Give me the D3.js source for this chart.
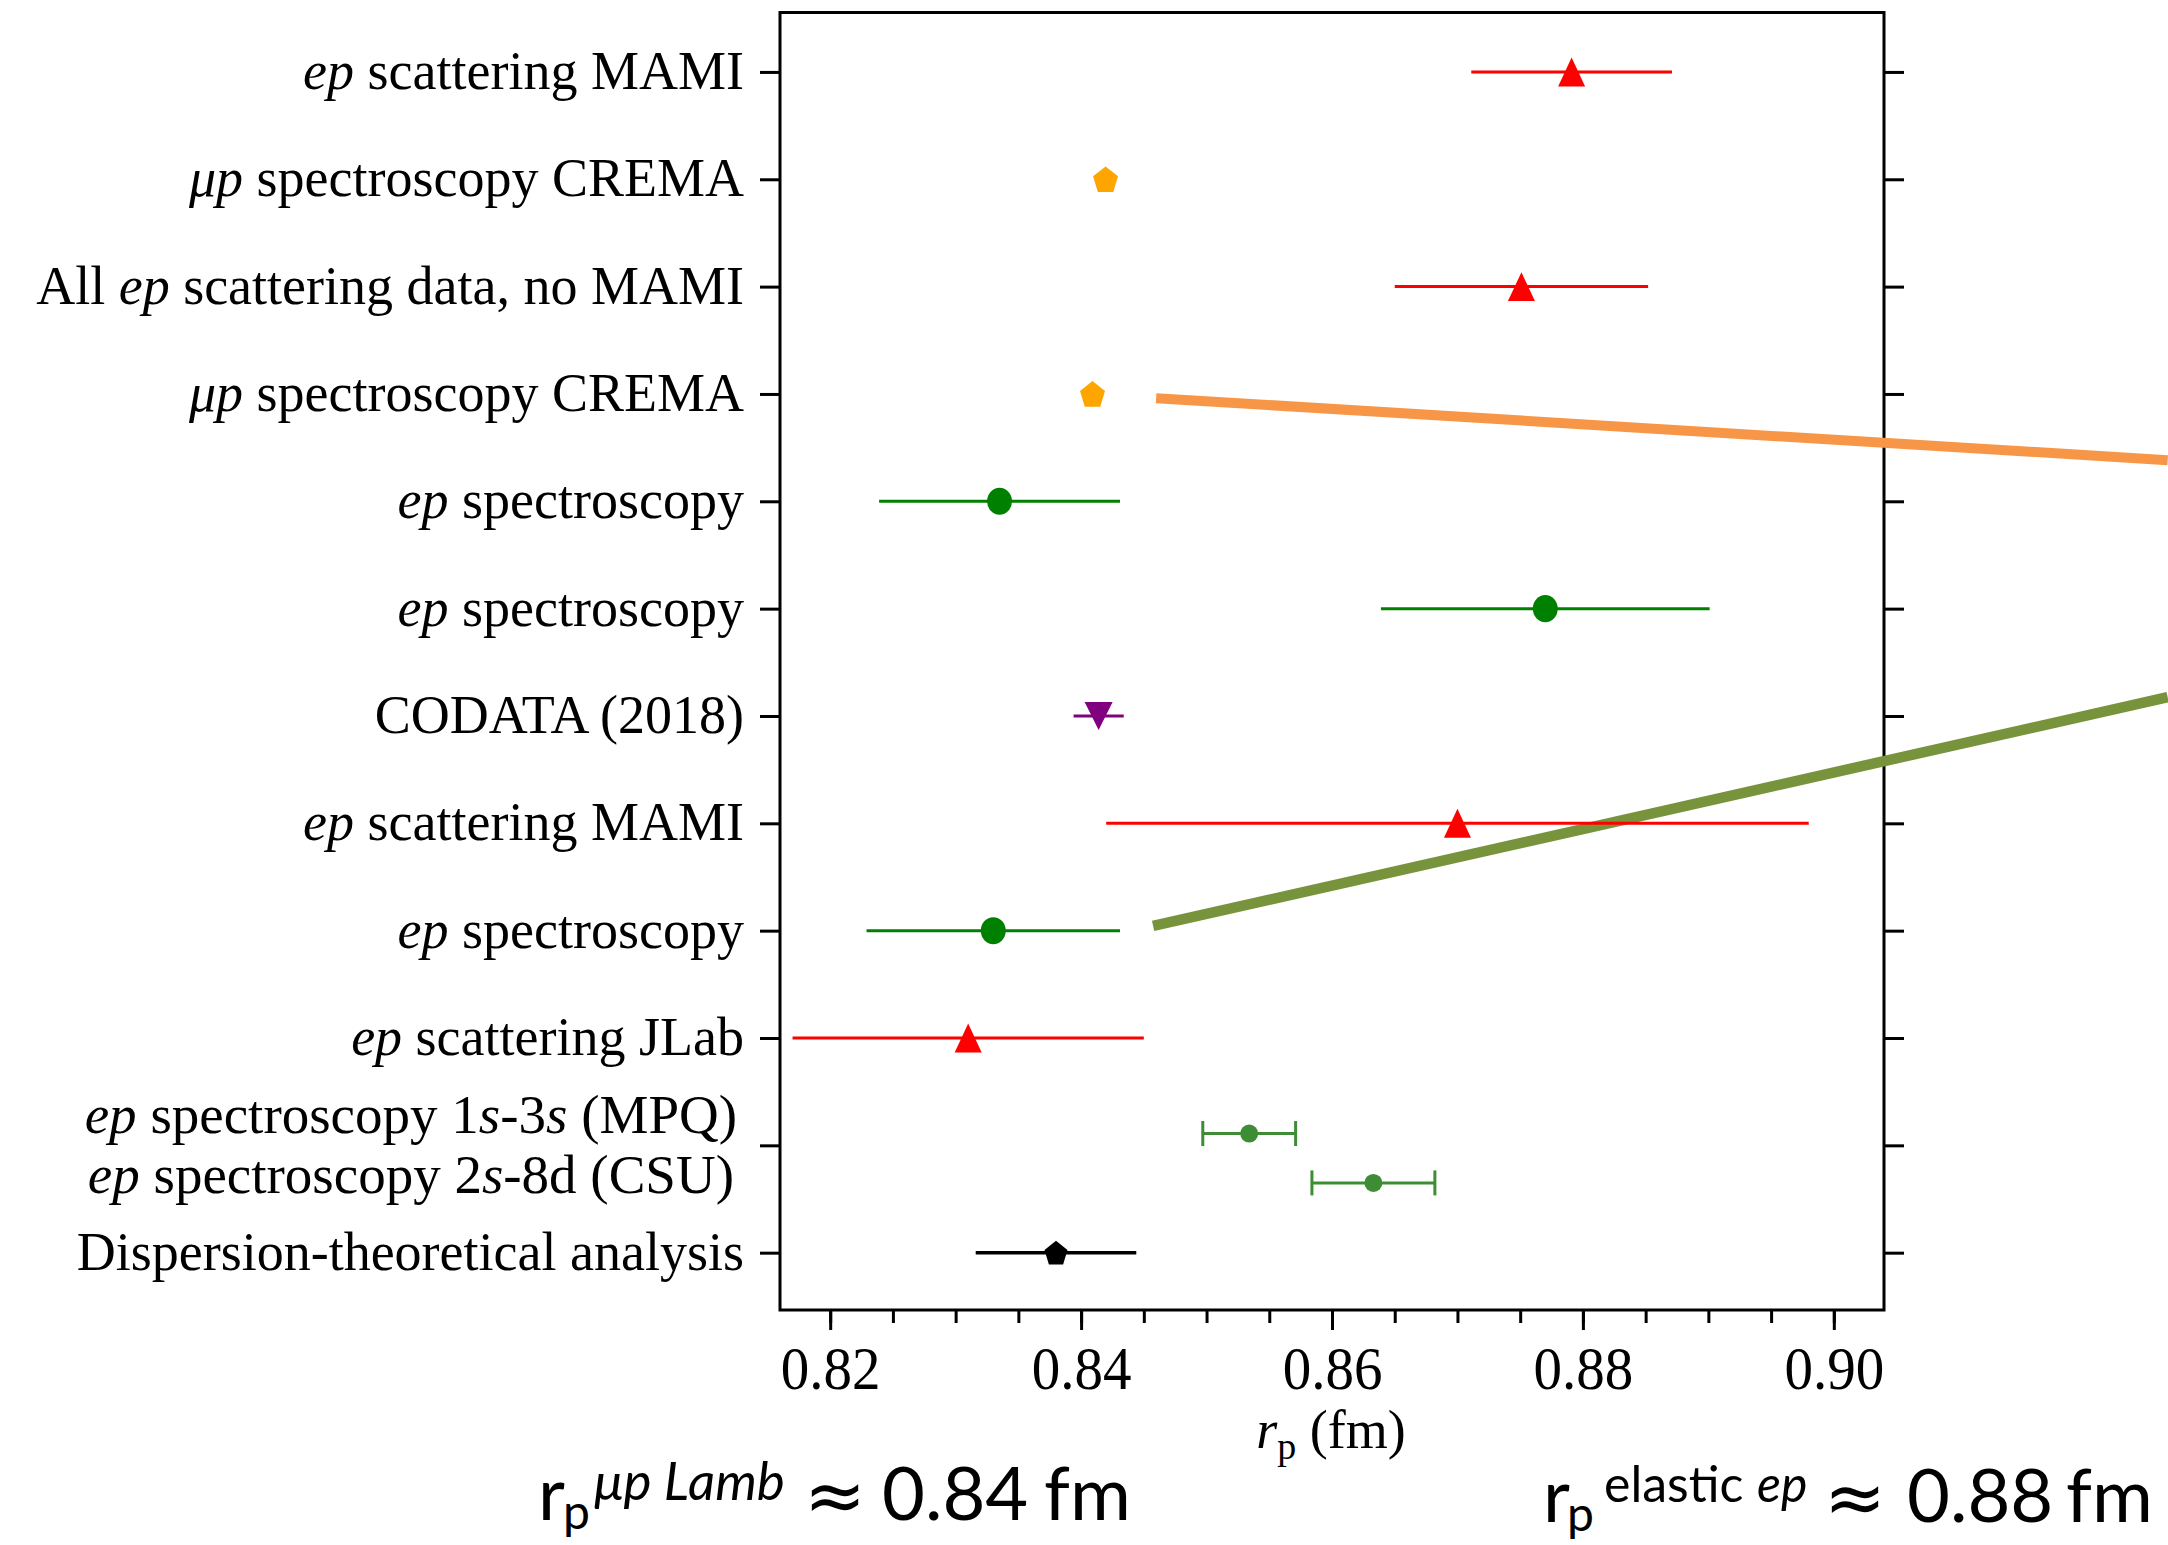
<!DOCTYPE html>
<html>
<head>
<meta charset="utf-8">
<script src="https://cdn.jsdelivr.net/npm/d3@7"></script>
<style>
  body { margin: 0; background: #fff; }
  svg { display: block; }
  text { white-space: pre; }
</style>
</head>
<body>
<script>
// ---------------- data ----------------
const labels = [
  "*ep* scattering MAMI",
  "*μp* spectroscopy CREMA",
  "All *ep* scattering data, no MAMI",
  "*μp* spectroscopy CREMA",
  "*ep* spectroscopy",
  "*ep* spectroscopy",
  "CODATA (2018)",
  "*ep* scattering MAMI",
  "*ep* spectroscopy",
  "*ep* scattering JLab",
  "*ep* spectroscopy 1*s*-3*s* (MPQ)",
  "*ep* spectroscopy 2*s*-8d (CSU)",
  "Dispersion-theoretical analysis"
];
const rowPos   = [0, 1, 2, 3, 4, 5, 6, 7, 8, 9, 9.89, 10.35, 11];
const labelPos = [0, 1, 2, 3, 4, 5, 6, 7, 8, 9, 9.727, 10.285, 11];
const values   = [0.8791, 0.84195, 0.8751, 0.84091, 0.8335, 0.8770, 0.8414, 0.8700, 0.8330, 0.8310, 0.8534, 0.8633, 0.8380];
const errors   = [0.0080, 0.0004, 0.0101, 0.0004, 0.0096, 0.0131, 0.0020, 0.0280, 0.0101, 0.0140, 0.0037, 0.0049, 0.0064];
const markers  = ["triUp","pent","triUp","pent","circle","circle","triDown","triUp","circle","triUp","small","small","pentSmall"];
const colors   = ["#ff0000","#ffa500","#ff0000","#ffa500","#008000","#008000","#800080","#ff0000","#008000","#ff0000","#3e8d34","#3e8d34","#000000"];
const capped   = [false,false,false,false,false,false,false,false,false,false,true,true,false];

const xMajorTicks = [0.82, 0.84, 0.86, 0.88, 0.90];
const xMinorTicks = [0.82, 0.825, 0.83, 0.835, 0.84, 0.845, 0.85, 0.855, 0.86, 0.865, 0.87, 0.875, 0.88, 0.885, 0.89, 0.895, 0.90];
const yTicks = [0, 1, 2, 3, 4, 5, 6, 7, 8, 9, 10, 11];

// annotation call-out lines (data units: r_p, row position)
const calloutOrange = [[0.84598, 3.039], [0.92661, 3.617]];
const calloutGreen  = [[0.84574, 7.956], [0.92661, 5.825]];

// ---------------- layout ----------------
const W = 2168, H = 1545;
const svg = d3.select("body").append("svg").attr("width", W).attr("height", H);
svg.append("rect").attr("width", W).attr("height", H).attr("fill", "#fff");

const x = d3.scaleLinear().domain([0.816, 0.904]).range([780, 1884]);
const y = d3.scaleLinear().domain([-0.5537, 11.534]).range([12.5, 1310]);

const serif = "'Liberation Serif','Times New Roman',serif";

// frame
svg.append("rect")
  .attr("x", x.range()[0]).attr("y", y.range()[0])
  .attr("width", x.range()[1] - x.range()[0]).attr("height", y.range()[1] - y.range()[0])
  .attr("fill", "none").attr("stroke", "#000").attr("stroke-width", 3);

// axes
const styleAxis = g => {
  g.select(".domain").remove();
  g.selectAll(".tick line").attr("stroke", "#000").attr("stroke-width", 3);
};
svg.append("g").attr("transform", `translate(0,${y.range()[1]})`)
  .call(d3.axisBottom(x).tickValues(xMinorTicks).tickSize(13).tickFormat(""))
  .call(styleAxis);
const xMaj = svg.append("g").attr("transform", `translate(0,${y.range()[1]})`)
  .call(d3.axisBottom(x).tickValues(xMajorTicks).tickSize(20).tickPadding(13).tickFormat(d3.format(".2f")))
  .call(styleAxis);
xMaj.selectAll(".tick text").attr("font-family", serif).attr("font-size", 57).attr("fill", "#000")
  .attr("transform", "scale(1,1.08)");

svg.append("g").attr("transform", `translate(${x.range()[0]},0)`)
  .call(d3.axisLeft(y).tickValues(yTicks).tickSize(20).tickFormat(""))
  .call(styleAxis);
svg.append("g").attr("transform", `translate(${x.range()[1]},0)`)
  .call(d3.axisRight(y).tickValues(yTicks).tickSize(20).tickFormat(""))
  .call(styleAxis);

// rich text helper
function addRich(sel, str) {
  str.split(/(\*[^*]+\*)/).filter(s => s.length).forEach(s => {
    const it = s.startsWith("*");
    sel.append("tspan").attr("font-style", it ? "italic" : null).text(it ? s.slice(1, -1) : s);
  });
}

// category labels
const labelEnd = [744, 744, 744, 744, 744, 744, 744, 744, 744, 744, 737, 734, 744];
labels.forEach((lab, i) => {
  const t = svg.append("text")
    .attr("x", labelEnd[i]).attr("y", y(labelPos[i]) + 17)
    .attr("text-anchor", "end")
    .attr("font-family", serif)
    .attr("font-size", (i === 10 || i === 11) ? 55 : 54)
    .attr("fill", "#000");
  addRich(t, lab);
});

// axis title
const xt = svg.append("text").attr("x", 1331).attr("y", 1448)
  .attr("text-anchor", "middle").attr("font-family", serif).attr("font-size", 54).attr("fill", "#000");
xt.append("tspan").attr("font-style", "italic").text("r");
xt.append("tspan").attr("font-size", 38).attr("dy", 11).text("p");
xt.append("tspan").attr("dy", -11).text(" (fm)");

// callout lines
const line = d3.line().x(d => x(d[0])).y(d => y(d[1]));
svg.append("path").attr("d", line(calloutOrange)).attr("stroke", "#f79646").attr("stroke-width", 10).attr("fill", "none");
svg.append("path").attr("d", line(calloutGreen)).attr("stroke", "#77933c").attr("stroke-width", 10.5).attr("fill", "none");

// custom symbol types (size = width^2)
const triUp = { draw(ctx, size) { const w = Math.sqrt(size), h = w * 1.07;
  ctx.moveTo(0, -h / 2); ctx.lineTo(w / 2, h / 2); ctx.lineTo(-w / 2, h / 2); ctx.closePath(); } };
const triDown = { draw(ctx, size) { const w = Math.sqrt(size), h = w;
  ctx.moveTo(0, h / 2); ctx.lineTo(w / 2, -h / 2); ctx.lineTo(-w / 2, -h / 2); ctx.closePath(); } };
const pent = { draw(ctx, size) { const w = Math.sqrt(size), R = w / 1.902, sy = 1.08, off = 0.095 * R;
  for (let k = 0; k < 5; k++) { const a = -Math.PI / 2 + k * 2 * Math.PI / 5;
    const px = R * Math.cos(a), py = (R * Math.sin(a) + off) * sy;
    if (k === 0) ctx.moveTo(px, py); else ctx.lineTo(px, py); } ctx.closePath(); } };

const symTypes = { triUp: triUp, triDown: triDown, pent: pent, pentSmall: pent, circle: d3.symbolCircle, small: d3.symbolCircle };
const symSize = { triUp: 27 * 27, triDown: 28 * 28, pent: 25 * 25, pentSmall: 23 * 23, circle: Math.PI * 13 * 13, small: Math.PI * 9 * 9 };

// error bars + markers
const idx = d3.range(values.length);
const g = svg.append("g");
idx.forEach(i => {
  const cy = y(rowPos[i]);
  g.append("line").attr("x1", x(values[i] - errors[i])).attr("x2", x(values[i] + errors[i]))
    .attr("y1", cy).attr("y2", cy).attr("stroke", colors[i])
    .attr("stroke-width", colors[i] === "#000000" ? 3.5 : 3);
  if (capped[i]) {
    [values[i] - errors[i], values[i] + errors[i]].forEach(v => {
      g.append("line").attr("x1", x(v)).attr("x2", x(v)).attr("y1", cy - 12.5).attr("y2", cy + 12.5)
        .attr("stroke", colors[i]).attr("stroke-width", 3);
    });
  }
  g.append("path")
    .attr("transform", `translate(${x(values[i])},${cy})` + (markers[i] === "circle" ? " scale(0.96,1.04)" : ""))
    .attr("d", d3.symbol().type(symTypes[markers[i]]).size(symSize[markers[i]])())
    .attr("fill", colors[i]);
});

// bottom annotations
const sans = "Lato,'Open Sans',sans-serif";
function annot(parts) {
  const t = svg.append("text").attr("font-family", sans).attr("fill", "#000");
  parts.forEach(p => {
    t.append("tspan").attr("x", p.x).attr("y", p.y).attr("font-size", p.s)
      .attr("font-family", p.f || null)
      .attr("font-style", p.i ? "italic" : null).text(p.t);
  });
}
const approxFont = "'DejaVu Sans',sans-serif";
annot([
  { t: "r", x: 538, y: 1520, s: 74 },
  { t: "p", x: 563, y: 1529, s: 48 },
  { t: "μp Lamb", x: 594, y: 1500, s: 53, i: true },
  { t: "≈", x: 804, y: 1521, s: 74, f: approxFont },
  { t: "0.84", x: 882, y: 1520, s: 74 },
  { t: "fm", x: 1044, y: 1520, s: 74 }
]);
annot([
  { t: "r", x: 1543, y: 1522, s: 74 },
  { t: "p", x: 1567, y: 1531, s: 48 },
  { t: "elastic", x: 1604, y: 1502, s: 50 },
  { t: "ep", x: 1757, y: 1502, s: 50, i: true },
  { t: "≈", x: 1824, y: 1523, s: 74, f: approxFont },
  { t: "0.88", x: 1907, y: 1522, s: 74 },
  { t: "fm", x: 2066, y: 1522, s: 74 }
]);
</script>
</body>
</html>
